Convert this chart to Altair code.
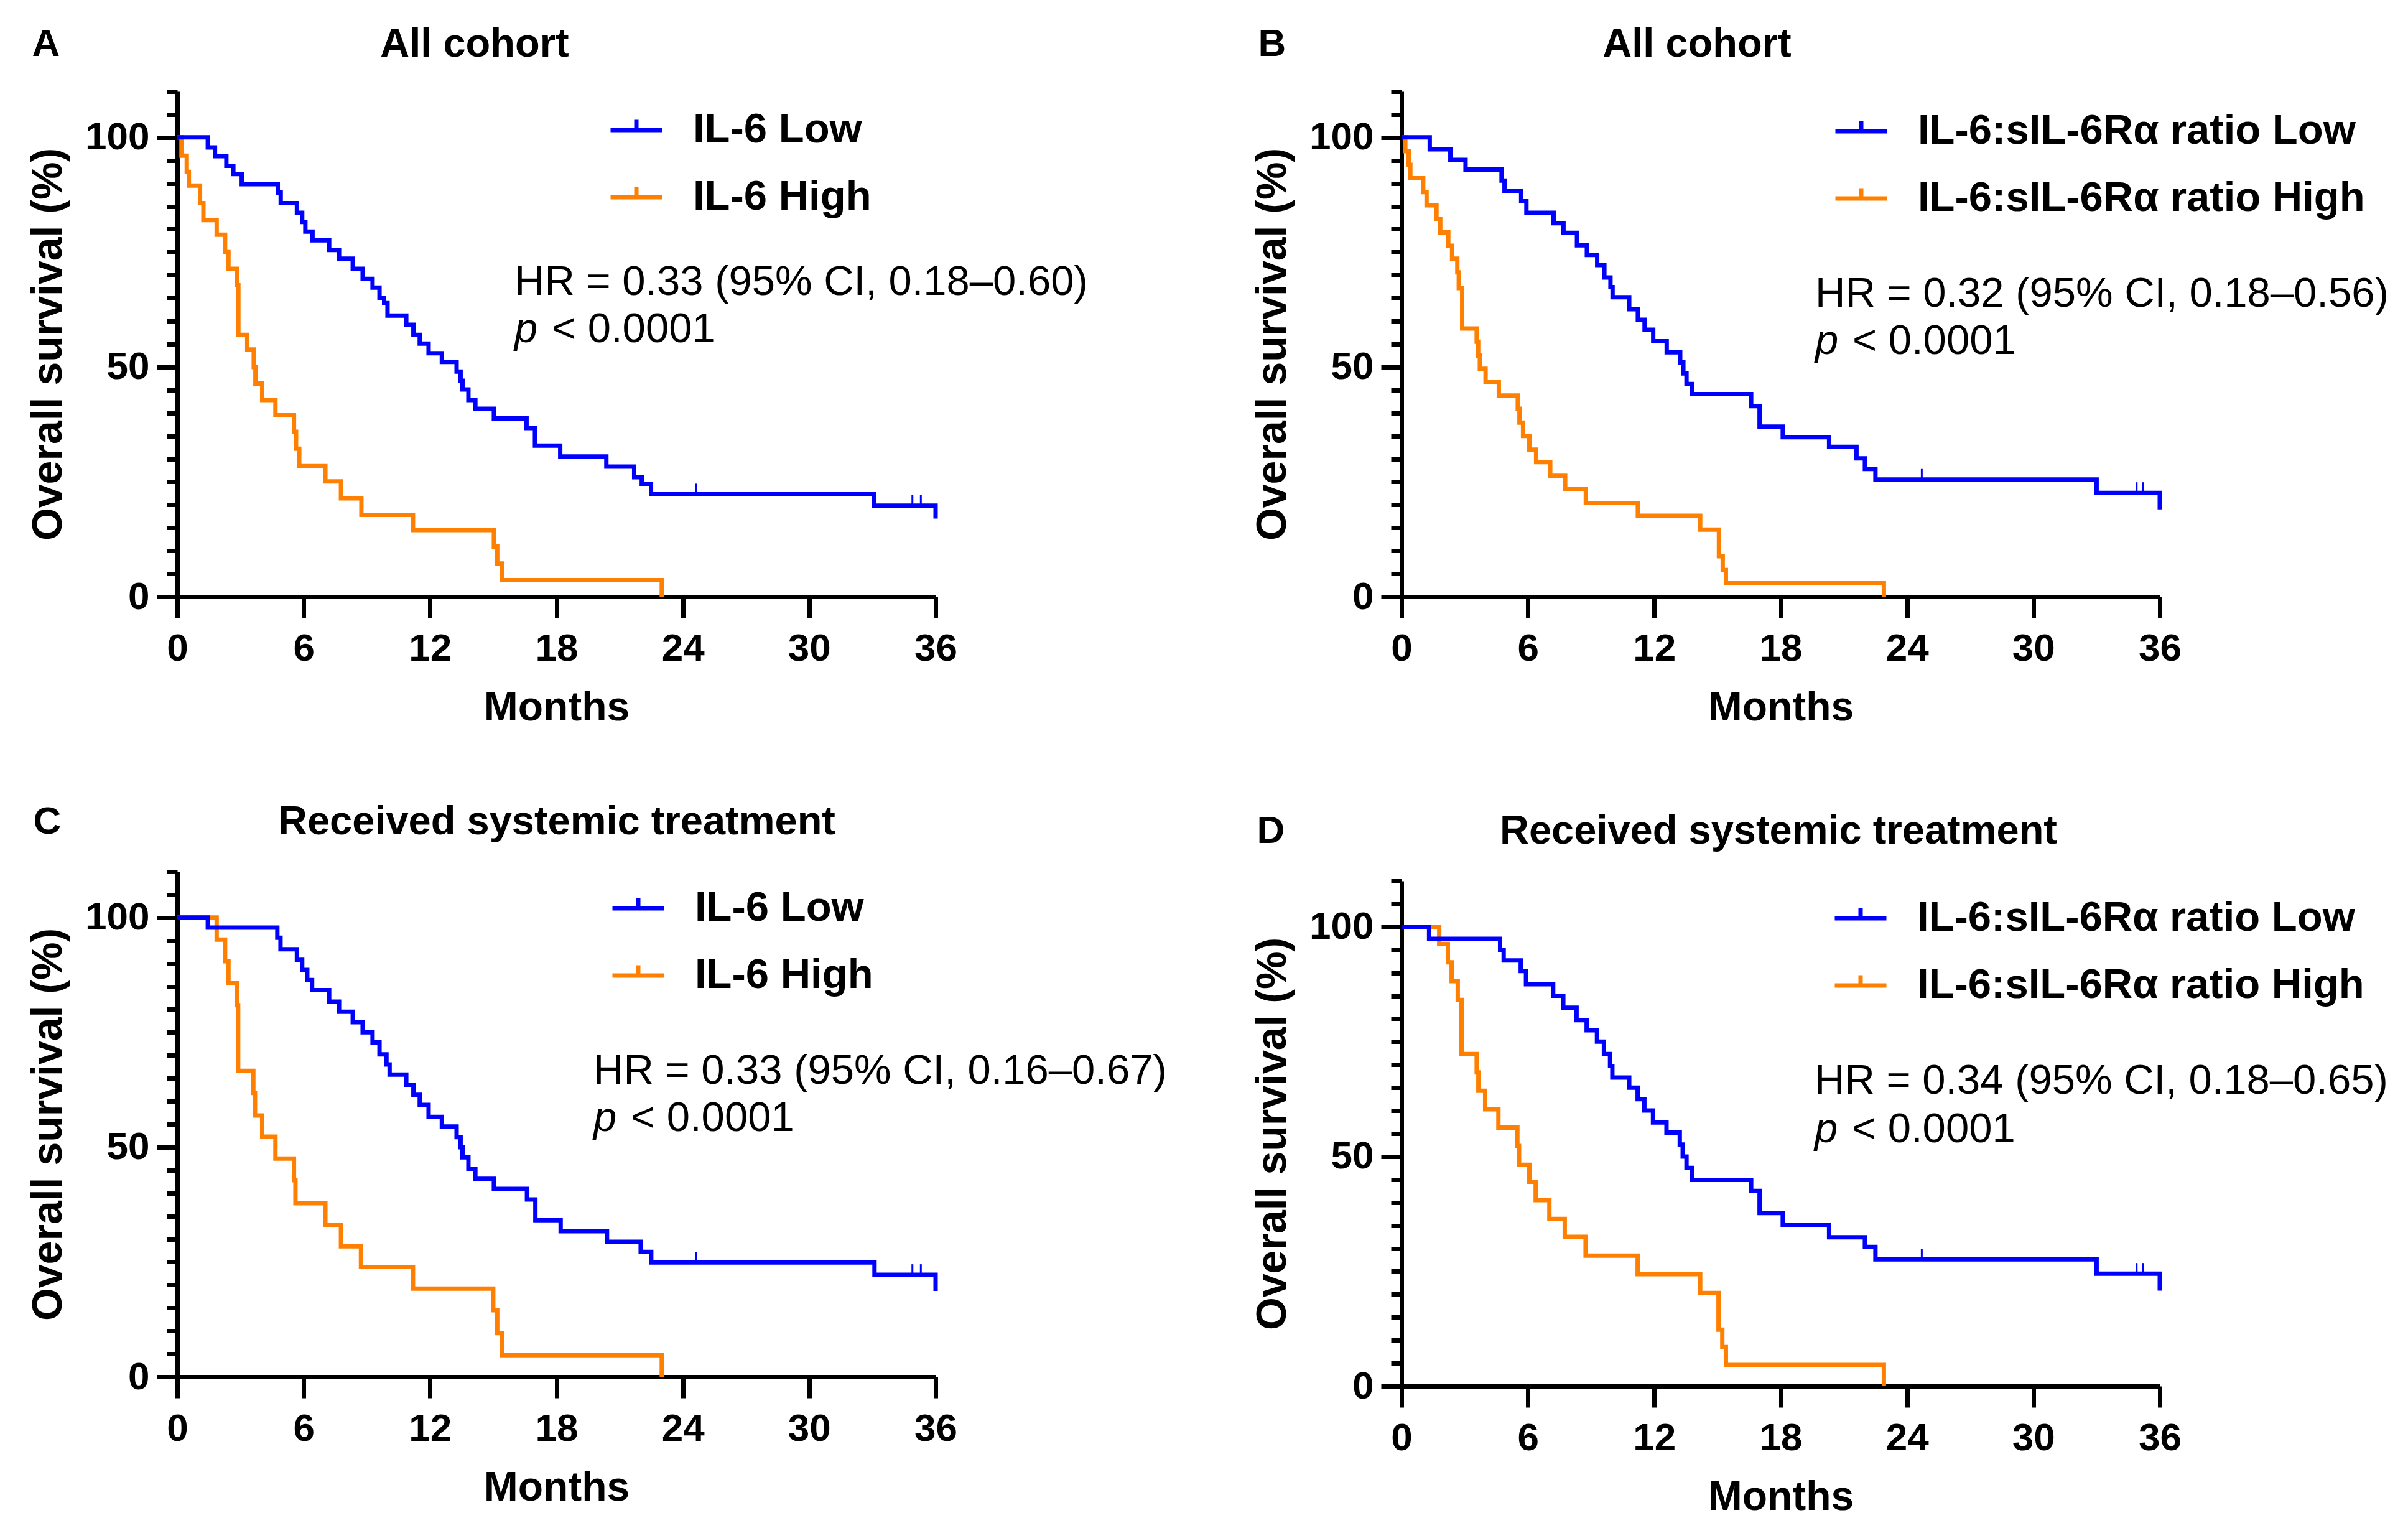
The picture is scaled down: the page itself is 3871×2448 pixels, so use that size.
import altair as alt
import pandas as pd

FONT = "Liberation Sans"
BLUE = "#0000FF"
ORANGE = "#FF8000"

MONTH_TICKS = [0, 6, 12, 18, 24, 30, 36]
Y_TICKS = list(range(0, 111, 5))

# ---------------- Panel A : IL-6, all cohort ----------------
A_low_t = [0, 1.45, 1.79, 2.33, 2.66, 3.06, 4.77, 4.91, 5.68, 5.93, 6.08, 6.42, 7.21, 7.68, 8.33, 8.80, 9.27, 9.60,
           9.82, 9.98, 10.87, 11.21, 11.51, 11.93, 12.56, 13.26, 13.45, 13.54, 13.82, 14.15, 15.03, 16.58, 16.98,
           18.18, 20.37, 21.69, 22.05, 22.49, 33.08, 36.0]
A_low_s = [100, 97.8, 95.9, 93.8, 92.0, 89.8, 88.0, 85.7, 83.6, 81.6, 79.5, 77.6, 75.5, 73.6, 71.4, 69.2, 67.3, 65.1,
           63.9, 61.2, 59.2, 57.0, 55.1, 53.0, 51.1, 49.0, 47.0, 45.1, 42.8, 40.9, 38.8, 36.7, 32.9,
           30.5, 28.3, 26.0, 24.6, 22.3, 19.8, 17.0]
A_high_t = [0, 0.2, 0.45, 0.55, 1.08, 1.24, 1.87, 2.27, 2.43, 2.84, 2.90, 3.32, 3.63, 3.71, 4.03, 4.66, 5.54, 5.64,
            5.79, 7.03, 7.77, 8.74, 11.19, 15.03, 15.19, 15.43, 23.0]
A_high_s = [100, 96.0, 92.5, 89.5, 85.7, 82.0, 78.8, 75.0, 71.4, 67.8, 57.0, 53.8, 50.0, 46.4, 42.8, 39.5, 35.9, 32.2,
            28.4, 25.1, 21.4, 17.8, 14.5, 10.9, 7.2, 3.6, 0]
A_censor_t = [24.64, 34.90, 35.30]

# ---------------- Panel B : ratio, all cohort ----------------
B_low_t = [0, 1.34, 2.32, 3.04, 4.75, 4.89, 5.68, 5.93, 7.22, 7.69, 8.33, 8.80, 9.29, 9.63, 9.92, 10.02, 10.81, 11.22,
           11.54, 11.95, 12.59, 13.23, 13.38, 13.53, 13.78, 16.6, 17.0, 18.1, 20.3, 21.6, 22.0, 22.5, 33.0, 36.0]
B_low_s = [100, 97.4, 95.1, 93.0, 90.6, 88.3, 86.1, 83.6, 81.3, 79.2, 76.5, 74.4, 72.2, 69.5, 67.4, 65.2, 62.6, 60.3,
           58.1, 55.6, 53.2, 51.0, 48.6, 46.3, 44.1, 41.5, 37.0, 34.7, 32.6, 30.1, 27.8, 25.5, 22.6, 19.0]
B_high_t = [0, 0.18, 0.34, 0.42, 1.03, 1.19, 1.66, 1.84, 2.22, 2.40, 2.65, 2.72, 2.88, 3.57, 3.64, 3.72, 3.99, 4.62,
            5.52, 5.60, 5.77, 6.07, 6.39, 7.06, 7.77, 8.75, 11.22, 14.18, 15.07, 15.25, 15.40, 22.9]
B_high_s = [100, 97.0, 94.0, 91.1, 88.1, 85.2, 82.2, 79.3, 76.4, 73.6, 70.6, 67.2, 58.4, 55.5, 52.5, 49.6, 46.8, 43.8,
            40.9, 37.9, 35.0, 32.0, 29.3, 26.3, 23.4, 20.4, 17.6, 14.6, 8.8, 5.8, 2.9, 0]
B_censor_t = [24.7, 34.9, 35.2]

# ---------------- Panel C : IL-6, systemic treatment ----------------
C_low_t = [0, 1.45, 4.75, 4.90, 5.68, 5.93, 6.17, 6.40, 7.21, 7.68, 8.33, 8.80, 9.27, 9.60, 9.93, 10.08, 10.87, 11.21,
           11.51, 11.93, 12.56, 13.26, 13.45, 13.54, 13.82, 14.15, 15.03, 16.6, 17.0, 18.2, 20.4, 22.0, 22.5, 33.1, 36.0]
C_low_s = [100, 97.8, 95.6, 93.1, 90.8, 88.6, 86.4, 84.2, 81.7, 79.5, 77.2, 75.0, 72.8, 70.2, 68.0, 65.8, 63.6, 61.4,
           59.2, 56.6, 54.5, 52.2, 50.0, 47.8, 45.3, 43.1, 40.9, 38.6, 34.1, 31.7, 29.4, 27.2, 24.9, 22.2, 18.7]
C_high_t = [0, 1.87, 2.27, 2.43, 2.82, 2.89, 3.61, 3.69, 4.03, 4.66, 5.54, 5.61, 7.03, 7.77, 8.72, 11.19, 15.0, 15.19,
            15.43, 23.0]
C_high_s = [100, 95.2, 90.5, 85.7, 80.9, 66.6, 61.8, 56.9, 52.3, 47.5, 42.8, 37.8, 33.1, 28.4, 23.9, 19.2, 14.5, 9.5,
            4.7, 0]
C_censor_t = [24.64, 34.9, 35.3]

# ---------------- Panel D : ratio, systemic treatment ----------------
D_low_t = [0, 1.31, 4.68, 4.85, 5.66, 5.91, 7.20, 7.68, 8.31, 8.79, 9.28, 9.61, 9.90, 10.01, 10.81, 11.21, 11.53, 11.94,
           12.58, 13.21, 13.35, 13.53, 13.78, 16.6, 17.0, 18.1, 20.3, 22.0, 22.5, 33.0, 36.0]
D_low_s = [100, 97.4, 94.9, 92.7, 90.4, 87.5, 85.0, 82.4, 79.7, 77.5, 75.0, 72.3, 69.7, 67.2, 65.0, 62.5, 60.0, 57.4,
           55.2, 52.6, 50.0, 47.5, 44.9, 42.5, 37.7, 35.1, 32.4, 30.3, 27.6, 24.5, 20.8]
D_high_t = [0, 1.79, 2.20, 2.38, 2.67, 2.85, 3.57, 3.65, 3.97, 4.60, 5.50, 5.58, 6.07, 6.37, 7.02, 7.75, 8.74, 11.21,
            14.18, 15.05, 15.23, 15.40, 22.9]
D_high_s = [100, 96.3, 92.3, 88.2, 84.1, 72.3, 68.3, 64.3, 60.3, 56.3, 52.3, 48.2, 44.5, 40.5, 36.4, 32.5, 28.4, 24.4,
            20.3, 12.3, 8.5, 4.6, 0]
D_censor_t = [24.7, 34.9, 35.2]

PANEL_LETTERS = ["A", "B", "C", "D"]
PANEL_TITLES = ["All cohort", "All cohort", "Received systemic treatment", "Received systemic treatment"]
GROUP_NAMES = [("IL-6 Low", "IL-6 High"),
               ("IL-6:sIL-6R\u03b1 ratio Low", "IL-6:sIL-6R\u03b1 ratio High"),
               ("IL-6 Low", "IL-6 High"),
               ("IL-6:sIL-6R\u03b1 ratio Low", "IL-6:sIL-6R\u03b1 ratio High")]
HR_TEXTS = ["HR = 0.33 (95% CI, 0.18\u20130.60)",
            "HR = 0.32 (95% CI, 0.18\u20130.56)",
            "HR = 0.33 (95% CI, 0.16\u20130.67)",
            "HR = 0.34 (95% CI, 0.18\u20130.65)"]
P_TEXT = "< 0.0001"

W, H = 1219, 812

# layout (pixel offsets relative to each plot area)
LAYOUT = {
    "A": dict(title_x=478, title_y=-76, letter_x=-211, leg_x=693, leg_y=57, hr_x=542, hr_y=307, p_y=383),
    "B": dict(title_x=475, title_y=-76, letter_x=-208, leg_x=694, leg_y=59, hr_x=665, hr_y=326, p_y=402),
    "C": dict(title_x=610, title_y=-80, letter_x=-209, leg_x=696, leg_y=54, hr_x=669, hr_y=321, p_y=397),
    "D": dict(title_x=606, title_y=-80, letter_x=-210, leg_x=693, leg_y=55, hr_x=664, hr_y=322, p_y=400),
}


def step_level(ts, ss, t):
    lvl = ss[0]
    for ti, si in zip(ts, ss):
        if ti <= t:
            lvl = si
    return lvl


def panel(letter, low_t, low_s, high_t, high_s, censor_t, idx):
    lo_name, hi_name = GROUP_NAMES[idx]
    L = LAYOUT[letter]
    low_df = pd.DataFrame({"t": low_t, "s": low_s, "g": lo_name})
    high_df = pd.DataFrame({"t": high_t, "s": high_s, "g": hi_name})
    cens_df = pd.DataFrame({"t": censor_t,
                            "s": [step_level(low_t, low_s, c) for c in censor_t],
                            "g": lo_name})

    color = alt.Color("g:N",
                      scale=alt.Scale(domain=[lo_name, hi_name], range=[BLUE, ORANGE]),
                      legend=alt.Legend(orient="none", legendX=L["leg_x"], legendY=L["leg_y"] - 40,
                                        title=None, padding=0,
                                        labelFont=FONT, labelFontSize=67, labelFontWeight="bold",
                                        labelColor="black", labelOffset=46, labelLimit=2000,
                                        symbolType="M-1,0H1M0,0V-0.4", symbolSize=6889,
                                        symbolStrokeWidth=7, rowPadding=30, symbolOffset=0))

    x = alt.X("t:Q", scale=alt.Scale(domain=[0, 36], nice=False),
              axis=alt.Axis(values=MONTH_TICKS, title="Months", labelFlush=False,
                            labelFont=FONT, labelFontSize=62, labelFontWeight="bold", labelColor="black",
                            labelPadding=19, tickSize=34, tickWidth=7, tickColor="black",
                            domainWidth=7, domainColor="black", grid=False,
                            titleFont=FONT, titleFontSize=66, titleFontWeight="bold", titleColor="black",
                            titlePadding=32))
    y = alt.Y("s:Q", scale=alt.Scale(domain=[0, 110], nice=False),
              axis=alt.Axis(values=Y_TICKS, title="Overall survival (%)",
                            labelExpr="datum.value % 50 === 0 ? datum.label : ''",
                            labelFont=FONT, labelFontSize=62, labelFontWeight="bold", labelColor="black",
                            labelPadding=12,
                            tickSize={"condition": {"test": "datum.value % 50 === 0", "value": 33}, "value": 17},
                            tickWidth=7, tickColor="black",
                            domainWidth=7, domainColor="black", grid=False,
                            titleFont=FONT, titleFontSize=68, titleFontWeight="bold", titleColor="black",
                            titlePadding=24))

    high_line = alt.Chart(high_df).mark_line(interpolate="step-after", strokeWidth=7).encode(x=x, y=y, color=color)
    low_line = alt.Chart(low_df).mark_line(interpolate="step-after", strokeWidth=7).encode(x=x, y=y, color=color)
    cens = alt.Chart(cens_df).mark_point(shape="M0,0V-1", size=1156, strokeWidth=3, filled=False, opacity=1).encode(
        x=x, y=y, color=alt.Color("g:N", scale=alt.Scale(domain=[lo_name, hi_name], range=[BLUE, ORANGE]), legend=None))

    title_df = pd.DataFrame({"txt": [PANEL_TITLES[idx]]})
    title = alt.Chart(title_df).mark_text(font=FONT, fontSize=65, fontWeight="bold", color="black",
                                          align="center", baseline="middle").encode(
        x=alt.value(L["title_x"]), y=alt.value(L["title_y"]), text="txt:N")
    letter_df = pd.DataFrame({"txt": [letter]})
    let = alt.Chart(letter_df).mark_text(font=FONT, fontSize=62, fontWeight="bold", color="black",
                                         align="center", baseline="middle").encode(
        x=alt.value(L["letter_x"]), y=alt.value(L["title_y"]), text="txt:N")
    hr_df = pd.DataFrame({"txt": [HR_TEXTS[idx]]})
    hr = alt.Chart(hr_df).mark_text(font=FONT, fontSize=67, color="black", align="left", baseline="middle").encode(
        x=alt.value(L["hr_x"]), y=alt.value(L["hr_y"]), text="txt:N")
    p_df = pd.DataFrame({"txt": ["p"]})
    p_it = alt.Chart(p_df).mark_text(font=FONT, fontSize=67, fontStyle="italic", color="black",
                                     align="left", baseline="middle").encode(
        x=alt.value(L["hr_x"]), y=alt.value(L["p_y"]), text="txt:N")
    pv_df = pd.DataFrame({"txt": [P_TEXT]})
    p_val = alt.Chart(pv_df).mark_text(font=FONT, fontSize=67, color="black",
                                       align="left", baseline="middle").encode(
        x=alt.value(L["hr_x"] + 60), y=alt.value(L["p_y"]), text="txt:N")

    return alt.layer(high_line, low_line, cens, title, let, hr, p_it, p_val).properties(width=W, height=H)


pA = panel("A", A_low_t, A_low_s, A_high_t, A_high_s, A_censor_t, 0)
pB = panel("B", B_low_t, B_low_s, B_high_t, B_high_s, B_censor_t, 1)
pC = panel("C", C_low_t, C_low_s, C_high_t, C_high_s, C_censor_t, 2)
pD = panel("D", D_low_t, D_low_s, D_high_t, D_high_s, D_censor_t, 3)

left = alt.vconcat(pA, pC, spacing=442, bounds="flush").resolve_scale(color="independent")
right = alt.vconcat(pB, pD, spacing=457, bounds="flush").resolve_scale(color="independent")

# nested concat groups report no width under "flush", so the gap includes the panel width
chart = alt.hconcat(left, right, spacing=W + 749, bounds="flush").resolve_scale(
    color="independent").properties(
    padding={"left": 36, "top": 31, "right": 5, "bottom": 5},
    background="white"
).configure_view(stroke=None)

chart.save("out.html", embed_options={"renderer": "svg", "actions": False})
